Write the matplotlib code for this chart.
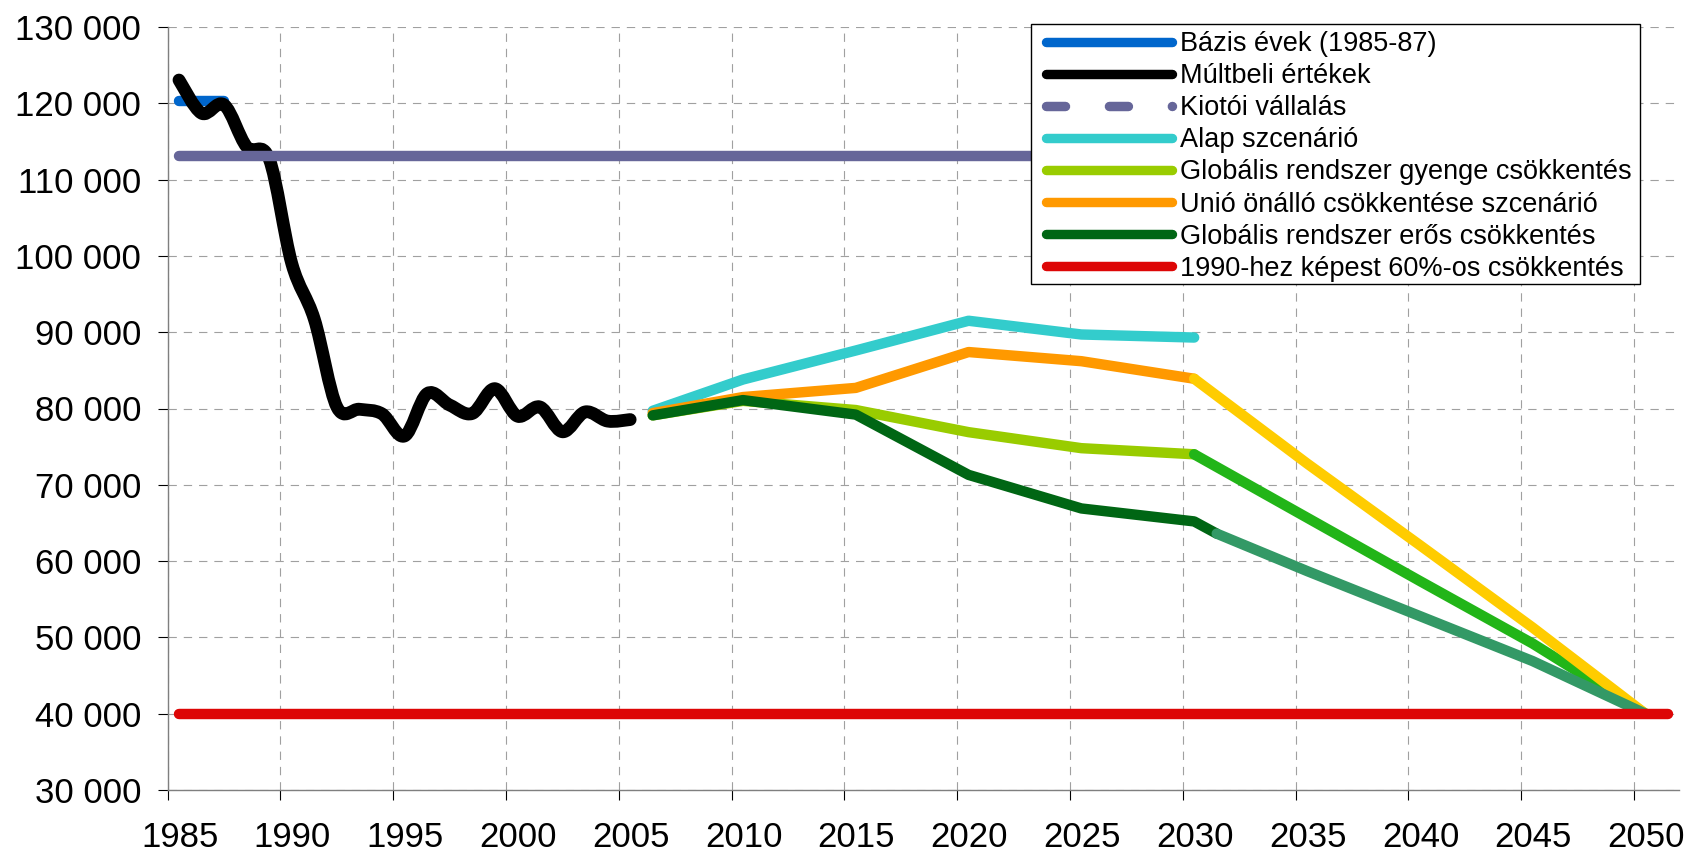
import matplotlib
matplotlib.use('Agg')
import matplotlib.pyplot as plt
from matplotlib.path import Path
from matplotlib.patches import PathPatch, Rectangle
from matplotlib.lines import Line2D
import matplotlib.transforms as mtransforms
import numpy as np

plt.rcParams['font.family'] = ['Liberation Sans', 'DejaVu Sans']
plt.rcParams['lines.scale_dashes'] = False

# ---------------- data ----------------
base_years = [1985, 1986, 1987]
base_values = [120300, 120300, 120300]

hist_years = list(range(1985, 2006))
hist_values = [123050, 118700, 119800, 114300, 112700, 99000, 91700, 80200,
               79900, 79300, 76400, 81950, 80450, 79350, 82600, 79000,
               80200, 76950, 79550, 78350, 78550]

kyoto_years = [1985, 2040]
kyoto_values = [113100, 113100]

scen_years = [2006, 2010, 2015, 2020, 2025, 2030]
alap_values = [79700, 83800, 87600, 91500, 89700, 89300]
gyenge_values = [79100, 81000, 79800, 76900, 74800, 74000]
unio_values = [79400, 81500, 82700, 87400, 86200, 83900]
eros_years = [2006, 2010, 2015, 2020, 2025, 2030, 2031]
eros_values = [79100, 81100, 79200, 71300, 66900, 65200, 63600]

tail_years = [2030, 2035, 2040, 2045, 2050]
unio_tail_values = [83900, 72800, 62100, 51300, 40000]
gyenge_tail_values = [74000, 65700, 57400, 49200, 40000]
eros_tail_years = [2031, 2035, 2040, 2045, 2050]
eros_tail_values = [63600, 58700, 52800, 46900, 40000]

target_years = [1985, 2051]
target_values = [40000, 40000]

legend_labels = ["Bázis évek (1985-87)", "Múltbeli értékek", "Kiotói vállalás",
                 "Alap szcenárió", "Globális rendszer gyenge csökkentés",
                 "Unió önálló csökkentése szcenárió",
                 "Globális rendszer erős csökkentés",
                 "1990-hez képest 60%-os csökkentés"]

xtick_years = list(range(1985, 2051, 5))
ytick_values = list(range(30000, 130001, 10000))
ytick_labels = ["30 000", "40 000", "50 000", "60 000", "70 000", "80 000",
                "90 000", "100 000", "110 000", "120 000", "130 000"]

# ---------------- style ----------------
X_OFF = 0.5   # points are drawn in the middle of the year
C_BASE = '#0066CC'
C_HIST = '#000000'
C_KYOTO = '#666699'
C_ALAP = '#33CCCC'
C_GYENGE = '#99CC00'
C_UNIO = '#FF9900'
C_EROS = '#006614'
C_TARGET = '#DD0606'
C_UNIO_T = '#FFCC00'
C_GYENGE_T = '#22B518'
C_EROS_T = '#339966'
LW = 7.5

fig = plt.figure(figsize=(16.9, 8.58), dpi=100)
ax = fig.add_axes([167.7 / 1690, 1 - 790 / 858, (1679.2 - 167.7) / 1690, (790 - 27) / 858])


def xs(years):
    return np.asarray(years, dtype=float) + X_OFF


def line(years, values, color, z, lw=LW):
    ax.plot(xs(years), values, color=color, lw=lw, solid_capstyle='round',
            solid_joinstyle='round', zorder=z)


def smooth_path(x, y):
    p = np.column_stack([x, y])
    n = len(p)
    verts = [p[0]]
    codes = [Path.MOVETO]
    for i in range(n - 1):
        p_prev = p[i - 1] if i > 0 else p[i]
        p_next2 = p[i + 2] if i + 2 < n else p[i + 1]
        c1 = p[i] + (p[i + 1] - p_prev) / 6.0
        c2 = p[i + 1] - (p_next2 - p[i]) / 6.0
        verts += [c1, c2, p[i + 1]]
        codes += [Path.CURVE4] * 3
    return Path(verts, codes)


line(base_years, base_values, C_BASE, 2)
ax.add_patch(PathPatch(smooth_path(xs(hist_years), hist_values), fill=False,
                       edgecolor=C_HIST, lw=9.2, capstyle='round',
                       joinstyle='round', zorder=3))
line(kyoto_years, kyoto_values, C_KYOTO, 4)
line(scen_years, alap_values, C_ALAP, 5)
line(scen_years, gyenge_values, C_GYENGE, 6)
line(tail_years, gyenge_tail_values, C_GYENGE_T, 6.5)
line(scen_years, unio_values, C_UNIO, 7)
line(tail_years, unio_tail_values, C_UNIO_T, 7.5)
line(eros_years, eros_values, C_EROS, 8)
line(eros_tail_years, eros_tail_values, C_EROS_T, 8.5)
line(target_years, target_values, C_TARGET, 9)

ax.set_xlim(1985, 2052)
ax.set_ylim(30000, 130000)
ax.set_xticks(xtick_years)
ax.set_xticklabels([str(y) for y in xtick_years])
ax.set_yticks(ytick_values)
ax.set_yticklabels(ytick_labels)

for s in ['top', 'right']:
    ax.spines[s].set_visible(False)
for s in ['left', 'bottom']:
    ax.spines[s].set_color('#7f7f7f')
    ax.spines[s].set_linewidth(1.0)

ax.grid(True, color='#A0A0A0', lw=0.8, linestyle=(0, (6, 5)))
ax.set_axisbelow(True)
ax.tick_params(axis='both', direction='out', length=7.5, width=0.8,
               color='black', labelsize=25)
ax.tick_params(axis='y', pad=11.5)
ax.tick_params(axis='x', pad=14.5)

offset = mtransforms.ScaledTranslation(12 / 100, 0, fig.dpi_scale_trans)
for t in ax.xaxis.get_major_ticks():
    t.label1.set_transform(t.label1.get_transform() + offset)

# ---------------- legend ----------------
handles = [
    Line2D([], [], color=C_BASE, lw=6.8, solid_capstyle='round'),
    Line2D([], [], color=C_HIST, lw=6.8, solid_capstyle='round'),
    Line2D([], [], color=C_KYOTO, lw=6.8, linestyle=(0, (13.7, 31.6)),
           dash_capstyle='round'),
    Line2D([], [], color=C_ALAP, lw=6.8, solid_capstyle='round'),
    Line2D([], [], color=C_GYENGE, lw=6.8, solid_capstyle='round'),
    Line2D([], [], color=C_UNIO, lw=6.8, solid_capstyle='round'),
    Line2D([], [], color=C_EROS, lw=6.8, solid_capstyle='round'),
    Line2D([], [], color=C_TARGET, lw=6.8, solid_capstyle='round'),
]

fig.add_artist(Rectangle((1031.5 / 1690, 1 - 284.3 / 858), 609 / 1690, 260 / 858,
                         transform=fig.transFigure, facecolor='white',
                         edgecolor='black', lw=1.0, zorder=20))
leg = fig.legend(handles, legend_labels, loc='upper left',
                 bbox_to_anchor=(1046 / 1690, 1 - 31.0 / 858),
                 frameon=False, borderpad=0, borderaxespad=0,
                 fontsize=19.5, handlelength=4.65, handletextpad=0.3,
                 labelspacing=0.226)
leg.set_zorder(21)

fig.savefig('out.png', dpi=100)
